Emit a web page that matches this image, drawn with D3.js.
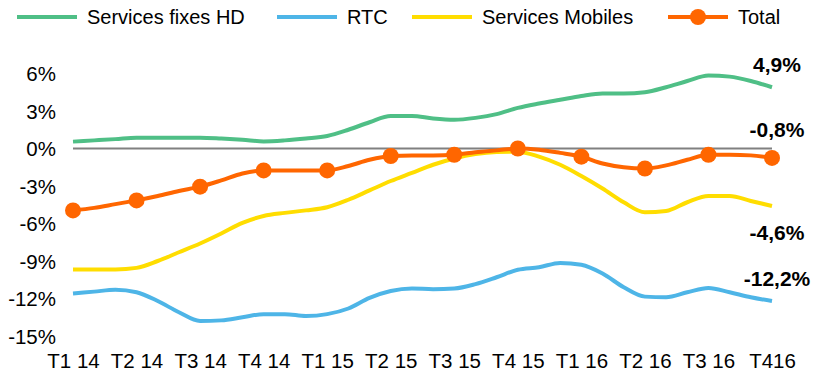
<!DOCTYPE html>
<html>
<head>
<meta charset="utf-8">
<script src="https://cdn.jsdelivr.net/npm/d3@7"></script>
<style>
  body { margin: 0; background: #fff; }
  text { font-family: "Liberation Sans", Arial, Helvetica, sans-serif; }
</style>
</head>
<body>
<div id="chart"></div>
<script>
// quarter labels (one point per month in between)
const quarters = ['T1 14', 'T2 14', 'T3 14', 'T4 14', 'T1 15', 'T2 15', 'T3 15', 'T4 15', 'T1 16', 'T2 16', 'T3 16', 'T416']

const fixesHD = [0.55, 0.65, 0.75, 0.87, 0.87, 0.87, 0.87, 0.8, 0.7, 0.57, 0.65, 0.8,
  1.0, 1.5, 2.1, 2.6, 2.6, 2.4, 2.3, 2.45, 2.75, 3.25, 3.6, 3.9,
  4.2, 4.4, 4.4, 4.5, 4.9, 5.4, 5.85, 5.75, 5.4, 4.9]
const rtc = [-11.6, -11.45, -11.3, -11.5, -12.2, -13.1, -13.8, -13.75, -13.5, -13.25, -13.25, -13.4,
  -13.25, -12.8, -11.95, -11.4, -11.2, -11.25, -11.2, -10.85, -10.3, -9.7, -9.5, -9.15,
  -9.3, -10.0, -11.1, -11.85, -11.9, -11.5, -11.15, -11.5, -11.9, -12.2]
const mobiles = [-9.67, -9.67, -9.67, -9.55, -9.0, -8.3, -7.6, -6.8, -5.95, -5.4, -5.15, -4.95,
  -4.7, -4.1, -3.35, -2.6, -1.95, -1.3, -0.8, -0.45, -0.28, -0.25, -0.65, -1.3,
  -2.2, -3.2, -4.3, -5.1, -5.0, -4.3, -3.8, -3.8, -4.2, -4.6]
const total = [-4.95, -4.75, -4.45, -4.15, -3.8, -3.4, -3.05, -2.55, -2.0, -1.75, -1.75, -1.75,
  -1.75, -1.4, -0.9, -0.6, -0.55, -0.55, -0.5, -0.3, -0.15, 0.0, -0.1, -0.35,
  -0.65, -1.2, -1.5, -1.6, -1.35, -0.9, -0.5, -0.5, -0.55, -0.75]

const yTicks = [-15, -12, -9, -6, -3, 0, 3, 6]
const endLabels = ['4,9%', '-0,8%', '-4,6%', '-12,2%']

const width = 822, height = 384

const series = [
  {name: 'Services fixes HD', values: fixesHD, color: '#4fbf86', label: endLabels[0], ly: 72},
  {name: 'RTC', values: rtc, color: '#4eb5e7', label: endLabels[3], ly: 286},
  {name: 'Services Mobiles', values: mobiles, color: '#ffdd00', label: endLabels[2], ly: 240},
  {name: 'Total', values: total, color: '#ff6600', label: endLabels[1], ly: 137, dots: true}
]

const svg = d3.select('#chart')
  .append('svg')
  .attr('width', width)
  .attr('height', height)

const x = d3.scaleLinear()
  .domain([0, fixesHD.length - 1])
  .range([73, 772])

const y = d3.scaleLinear()
  .domain([-15, 6])
  .range([336, 73.5])

// y axis
const yAxis = svg.append('g')
  .attr('transform', 'translate(56,0)')
  .call(d3.axisLeft(y).tickValues(yTicks).tickSize(0).tickPadding(0).tickFormat(d => d + '%'))
yAxis.select('.domain').remove()
yAxis.selectAll('text')
  .attr('font-size', 20.5)
  .attr('fill', '#000')
  .attr('dy', '0.36em')

// x axis
const xAxis = svg.append('g')
  .attr('transform', 'translate(0,353)')
  .call(d3.axisBottom(x).tickValues(quarters.map((q, i) => i * 3)).tickSize(0).tickPadding(0)
    .tickFormat((d, i) => quarters[i]))
xAxis.select('.domain').remove()
xAxis.selectAll('text')
  .attr('font-size', 20.5)
  .attr('fill', '#000')
  .attr('dy', '0.71em')

// zero line
svg.append('line')
  .attr('x1', x(0))
  .attr('x2', x(fixesHD.length - 1))
  .attr('y1', y(0))
  .attr('y2', y(0))
  .attr('stroke', '#808080')
  .attr('stroke-width', 2)

const line = d3.line()
  .x((d, i) => x(i))
  .y(d => y(d))
  .curve(d3.curveMonotoneX)

series.forEach(s => {
  svg.append('path')
    .datum(s.values)
    .attr('d', line)
    .attr('fill', 'none')
    .attr('stroke', s.color)
    .attr('stroke-width', 4)
    .attr('stroke-linejoin', 'round')

  if (s.dots) {
    svg.selectAll('.dot')
      .data(s.values.map((v, i) => ({v, i})).filter(d => d.i % 3 === 0))
      .enter()
      .append('circle')
      .attr('cx', d => x(d.i))
      .attr('cy', d => y(d.v))
      .attr('r', 8)
      .attr('fill', s.color)
  }

  svg.append('text')
    .text(s.label)
    .attr('x', 777)
    .attr('y', s.ly)
    .attr('text-anchor', 'middle')
    .attr('font-size', 21)
    .attr('font-weight', 'bold')
    .attr('fill', '#000')
})

// legend
const legendX = [17, 277, 412, 668]
const legend = svg.append('g')
series.forEach((s, i) => {
  const g = legend.append('g').attr('transform', `translate(${legendX[i]},17)`)
  g.append('line')
    .attr('x1', 0).attr('x2', 60)
    .attr('stroke', s.color)
    .attr('stroke-width', 4)
  if (s.dots) {
    g.append('circle').attr('cx', 30).attr('r', 8).attr('fill', s.color)
  }
  g.append('text')
    .text(s.name)
    .attr('x', 70)
    .attr('dy', '0.36em')
    .attr('font-size', 20)
    .attr('fill', '#000')
})
</script>
</body>
</html>
